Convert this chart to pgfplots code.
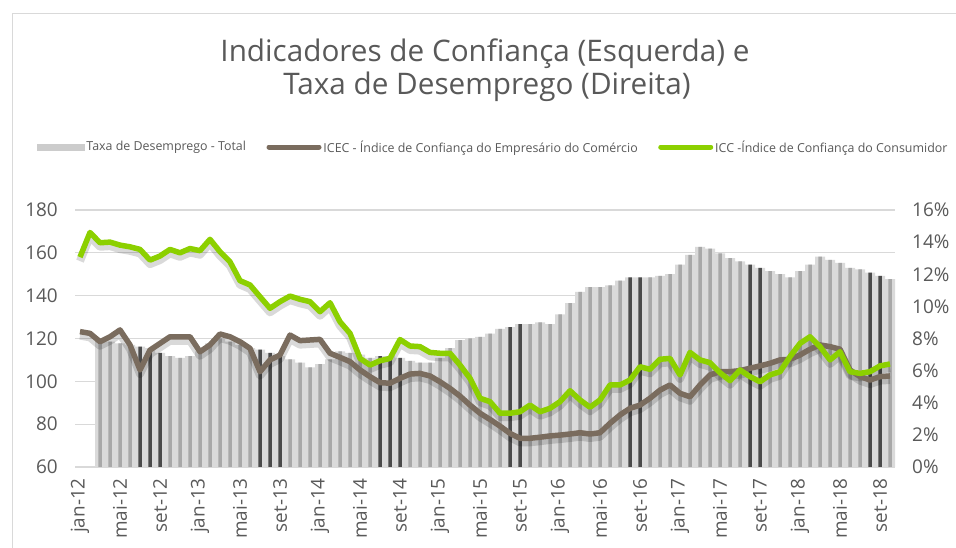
\documentclass[border=0pt]{standalone}
\usepackage{pgfplots}
\pgfplotsset{compat=1.18}
\usepackage{pgfplotstable}
\usepackage{fontspec}
\setmainfont{Open Sans}
\definecolor{txt}{HTML}{595959}
\definecolor{icc}{HTML}{8CD000}
\definecolor{icec}{HTML}{7A6C5E}
\definecolor{gridc}{HTML}{D9D9D9}
\definecolor{bgbar}{HTML}{DADADA}
\definecolor{midbar}{HTML}{A8A8A8}
\definecolor{darkbar}{HTML}{4A4A4A}

\pgfplotstableread{
i icec icc
0 123.2 158.0
1 122.4 169.5
2 118.5 164.7
3 120.8 165.0
4 124.0 163.6
5 117.0 162.8
6 105.3 161.6
7 114.6 156.6
8 117.7 158.5
9 120.8 161.6
10 120.8 160.0
11 120.8 162.0
12 113.8 161.0
13 117.0 166.3
14 122.1 160.5
15 120.8 155.8
16 118.5 147.0
17 115.4 145.0
18 104.5 139.5
19 110.0 134.1
20 112.3 137.2
21 121.6 139.8
22 119.0 138.3
23 119.3 137.2
24 119.6 132.5
25 113.1 136.7
26 111.2 127.8
27 109.2 122.4
28 105.3 110.7
29 102.2 107.6
30 99.4 109.6
31 99.1 110.7
32 101.4 119.5
33 103.4 116.5
34 103.7 116.2
35 102.5 113.5
36 99.8 113.1
37 96.7 113.1
38 93.1 107.6
39 88.9 101.4
40 85.1 92.1
41 82.2 90.5
42 79.1 85.1
43 75.7 85.1
44 73.4 85.8
45 73.4 88.9
46 73.9 85.8
47 74.5 87.4
48 74.9 90.5
49 75.4 95.6
50 76.0 91.3
51 75.4 87.9
52 76.0 91.3
53 80.4 98.3
54 84.3 98.3
55 87.4 100.6
56 88.9 106.8
57 92.1 105.6
58 95.9 110.3
59 98.3 110.7
60 94.4 103.0
61 92.8 113.5
62 98.3 110.0
63 103.0 108.7
64 104.5 104.0
65 104.5 100.3
66 105.0 105.3
67 106.1 102.2
68 107.2 99.8
69 108.4 103.0
70 110.0 104.5
71 110.3 111.5
72 112.3 117.7
73 115.0 120.8
74 117.0 116.2
75 116.2 110.0
76 115.0 113.8
77 105.3 104.5
78 102.2 103.7
79 100.6 104.5
80 102.2 107.2
81 102.5 108.1
}\linedata

\pgfplotstableread{
i u d
2 8.0 0
3 7.8 0
4 7.7 0
5 7.6 0
6 7.5 1
7 7.4 1
8 7.1 1
9 6.9 0
10 6.8 0
11 6.9 0
12 7.2 0
13 7.7 0
14 8.0 0
15 7.8 0
16 7.6 0
17 7.4 0
18 7.3 1
19 7.1 1
20 6.9 1
21 6.7 0
22 6.5 0
23 6.2 0
24 6.4 0
25 6.7 0
26 7.2 0
27 7.1 0
28 7.0 0
29 6.8 0
30 6.9 1
31 6.9 1
32 6.8 1
33 6.6 0
34 6.5 0
35 6.5 0
36 6.8 0
37 7.4 0
38 7.9 0
39 8.0 0
40 8.1 0
41 8.3 0
42 8.6 0
43 8.7 1
44 8.9 1
45 8.9 0
46 9.0 0
47 8.9 0
48 9.5 0
49 10.2 0
50 10.9 0
51 11.2 0
52 11.2 0
53 11.3 0
54 11.6 0
55 11.8 1
56 11.8 1
57 11.8 0
58 11.9 0
59 12.0 0
60 12.6 0
61 13.2 0
62 13.7 0
63 13.6 0
64 13.3 0
65 13.0 0
66 12.8 0
67 12.6 1
68 12.4 1
69 12.2 0
70 12.0 0
71 11.8 0
72 12.2 0
73 12.6 0
74 13.1 0
75 12.9 0
76 12.7 0
77 12.4 0
78 12.3 0
79 12.1 1
80 11.9 1
81 11.7 0
}\unemp

\pgfplotsset{
  base/.style={
    at={(75bp,81bp)}, anchor=south west, scale only axis,
    width=820bp, height=257bp, xmin=-0.5, xmax=81.5,
    major tick length=0pt, minor tick num=0,
    ticklabel style={font=\fontsize{19}{19}\selectfont, text=txt},
  }
}

\begin{document}
\begin{tikzpicture}[x=1bp,y=1bp]
\useasboundingbox (0,0) rectangle (956,548);
\draw[gridc, line width=1bp] (12.5,0) -- (12.5,534) -- (956,534);

\node[anchor=base, font=\fontsize{29.8}{33}\selectfont, text=txt] at (485,486) {Indicadores de Confiança (Esquerda) e};
\node[anchor=base, font=\fontsize{29.8}{33}\selectfont, text=txt] at (487,453) {Taxa de Desemprego (Direita)};

% axis A: grid, x labels, left labels
\begin{axis}[base,
  ymin=60, ymax=180,
  ytick={60,80,...,180}, yticklabels={60,80,100,120,140,160,180},
  xtick={0,4,...,80},
  xticklabels={jan-12,mai-12,set-12,jan-13,mai-13,set-13,jan-14,mai-14,set-14,jan-15,mai-15,set-15,jan-16,mai-16,set-16,jan-17,mai-17,set-17,jan-18,mai-18,set-18},
  axis line style={draw=none},
  ymajorgrids, grid style={draw=gridc, line width=1.2bp},
  yticklabel style={inner sep=0pt, anchor=east, xshift=-17bp},
  xticklabel style={rotate=90, anchor=east, inner xsep=11bp, inner ysep=0pt},
]
\addplot[draw=none, forget plot] coordinates {(0,60)};
\end{axis}

% axis B: unemployment bars, right axis
\begin{axis}[base,
  ymin=0, ymax=16,
  axis y line*=right, axis x line=none,
  y axis line style={draw=none},
  ytick={0,2,...,16}, yticklabels={0\%,2\%,4\%,6\%,8\%,10\%,12\%,14\%,16\%},
  yticklabel style={inner sep=0pt, anchor=west, xshift=17bp},
  ybar,
]
\addplot[fill=bgbar, draw=none, bar width=10bp, bar shift=0pt] table[x=i,y=u]{\unemp};
\addplot[fill=midbar, draw=none, bar width=3.5bp, bar shift=0pt, restrict expr to domain={\thisrow{d}}{0:0}] table[x=i,y=u]{\unemp};
\addplot[fill=darkbar, draw=none, bar width=3.5bp, bar shift=0pt, restrict expr to domain={\thisrow{d}}{1:1}] table[x=i,y=u]{\unemp};
\end{axis}

% axis C: lines + legend
\begin{axis}[base,
  ymin=60, ymax=180, hide axis,
  legend columns=3,
  legend style={draw=none, fill=none, inner sep=0pt, outer sep=0pt,
    font=\fontsize{12.45}{13}\selectfont, text=txt,
    at={(-0.0463,1.245)}, anchor=west,
    /tikz/every even column/.append style={column sep=18.5bp}},
  legend cell align=left,
]
\addlegendimage{legend image code/.code={\fill[gray!40] (0bp,-3bp) rectangle (47bp,3bp);}}
\addlegendentry{Taxa de Desemprego - Total}
\addplot[forget plot, draw=black, opacity=0.15, line width=8bp, line join=round, yshift=-4bp] table[x=i,y=icec]{\linedata};
\addplot[forget plot, draw=black, opacity=0.15, line width=8bp, line join=round, yshift=-4bp] table[x=i,y=icc]{\linedata};
\addplot[icec, line width=5.5bp, line join=round,
  legend image code/.code={\draw[line width=5bp, line cap=round] (0bp,0bp) -- (50bp,0bp);}]
  table[x=i,y=icec]{\linedata};
\addlegendentry{ICEC - Índice de Confiança do Empresário do Comércio}
\addplot[icc, line width=5.5bp, line join=round,
  legend image code/.code={\draw[line width=5bp, line cap=round] (0bp,0bp) -- (50bp,0bp);}]
  table[x=i,y=icc]{\linedata};
\addlegendentry{ICC -Índice de Confiança do Consumidor}
\end{axis}
\end{tikzpicture}
\end{document}
